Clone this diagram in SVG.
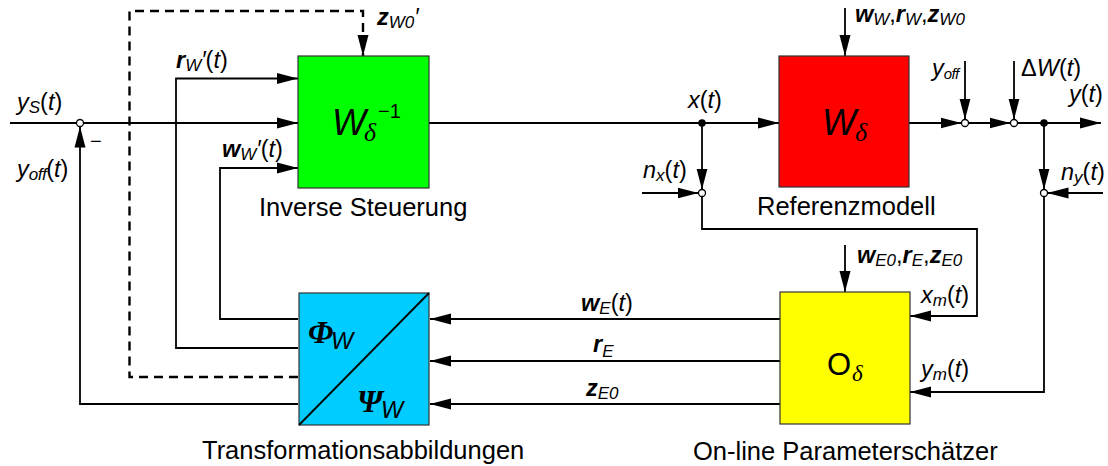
<svg xmlns="http://www.w3.org/2000/svg" width="1108" height="466" viewBox="0 0 1108 466">
<style>
.ln{fill:none;stroke:#000;stroke-width:1.8}
.dash{fill:none;stroke:#000;stroke-width:2.4;stroke-dasharray:9 6}
.box{stroke:#333;stroke-width:1.2}
.m{font-family:"Liberation Sans",Arial,sans-serif;font-style:italic;font-size:23.5px;fill:#000}
.b{font-weight:bold}
.s{font-size:17px}
.u{font-style:normal}
.g{font-family:"Liberation Serif","Times New Roman",serif;font-style:italic}
.lbl{font-family:"Liberation Sans",Arial,sans-serif;font-size:25.5px;fill:#000}
.big{font-family:"Liberation Sans",Arial,sans-serif;font-style:italic;font-size:36px}
.oc{fill:#fff;stroke:#000;stroke-width:1.3}
.dot{fill:#000}
</style>
<defs>
<marker id="ar" markerUnits="userSpaceOnUse" markerWidth="21" markerHeight="12" refX="21" refY="6" orient="auto" viewBox="0 0 21 12">
<path d="M0,0.5 L21,6 L0,11.5 z" fill="#000"/>
</marker>
</defs>

<g id="connectors">
<path class="ln" d="M10,123 H76.5"/>
<path class="ln" d="M83.5,123 H298" marker-end="url(#ar)"/>
<path class="ln" d="M298,404 H80 V126.5" marker-end="url(#ar)"/>
<path class="dash" d="M298,377 H129.5 V11 H363 V56" marker-end="url(#ar)"/>
<path class="ln" d="M298,348 H176 V78.5 H298" marker-end="url(#ar)"/>
<path class="ln" d="M298,319 H220 V168 H298" marker-end="url(#ar)"/>
<path class="ln" d="M429,123 H779" marker-end="url(#ar)"/>
<path class="ln" d="M702,123 V189.5" marker-end="url(#ar)"/>
<path class="ln" d="M642,193 H698.5" marker-end="url(#ar)"/>
<path class="ln" d="M702,196.5 V229 H977 V316 H910" marker-end="url(#ar)"/>
<path class="ln" d="M909,123 H961.5" marker-end="url(#ar)"/>
<path class="ln" d="M968.5,123 H1010.5" marker-end="url(#ar)"/>
<path class="ln" d="M1017.5,123 H1101" marker-end="url(#ar)"/>
<path class="ln" d="M965,61 V119.5" marker-end="url(#ar)"/>
<path class="ln" d="M1014,61 V119.5" marker-end="url(#ar)"/>
<path class="ln" d="M845,8 V56" marker-end="url(#ar)"/>
<path class="ln" d="M1044,123 V189.5" marker-end="url(#ar)"/>
<path class="ln" d="M1103,193 H1047.5" marker-end="url(#ar)"/>
<path class="ln" d="M1044,196.5 V392 H910" marker-end="url(#ar)"/>
<path class="ln" d="M845,245 V292" marker-end="url(#ar)"/>
<path class="ln" d="M780,319 H430" marker-end="url(#ar)"/>
<path class="ln" d="M780,361 H430" marker-end="url(#ar)"/>
<path class="ln" d="M780,404 H430" marker-end="url(#ar)"/>
<circle class="oc" cx="80" cy="123" r="3.5"/>
<circle class="dot" cx="702" cy="123" r="3.8"/>
<circle class="oc" cx="702" cy="193" r="3.5"/>
<circle class="oc" cx="965" cy="123" r="3.5"/>
<circle class="oc" cx="1014" cy="123" r="3.5"/>
<circle class="dot" cx="1044" cy="123" r="3.8"/>
<circle class="oc" cx="1044" cy="193" r="3.5"/>
</g>

<g id="inverse">
<rect class="box" x="298" y="56" width="131" height="132" fill="#00ff00"/>
<text class="big" x="332" y="135">W</text>
<text class="g" x="364" y="141" font-size="26">δ</text>
<text x="378" y="118" font-family="Liberation Sans, Arial, sans-serif" font-size="20">−1</text>
<text class="lbl" x="259" y="216">Inverse Steuerung</text>
</g>

<g id="referenz">
<rect class="box" x="779" y="56" width="130" height="131" fill="#ff0000"/>
<text class="big" x="822" y="135">W</text>
<text class="g" x="855" y="141" font-size="26">δ</text>
<text class="lbl" x="757" y="215">Referenzmodell</text>
</g>

<g id="transformation">
<rect class="box" x="299" y="293" width="130" height="132" fill="#00ccff"/>
<path d="M299,425 L429,293" stroke="#000" stroke-width="1.8"/>
<text x="308" y="343" font-family="Liberation Serif, Times New Roman, serif" font-style="italic" font-weight="bold" font-size="32">Φ</text>
<text class="m" x="331" y="349" font-size="30">W</text>
<text x="357" y="412" font-family="Liberation Serif, Times New Roman, serif" font-style="italic" font-weight="bold" font-size="32">Ψ</text>
<text class="m" x="381" y="418" font-size="30">W</text>
<text class="lbl" x="202" y="459">Transformationsabbildungen</text>
</g>

<g id="schaetzer">
<rect class="box" x="780" y="292" width="130" height="132" fill="#ffff00"/>
<text x="827" y="375" font-family="Liberation Sans, Arial, sans-serif" font-size="31">O</text>
<text class="g" x="852" y="381" font-size="23">δ</text>
<text class="lbl" x="693" y="460">On-line Parameterschätzer</text>
</g>

<g id="labels">
<text class="m" x="17" y="110">y<tspan class="s" dy="3">S</tspan><tspan class="u" dy="-3">(</tspan>t<tspan class="u">)</tspan></text>
<text class="m" x="17" y="177">y<tspan class="s" dy="3" letter-spacing="-0.5">off</tspan><tspan class="u" dy="-3">(</tspan>t<tspan class="u">)</tspan></text>
<text x="90" y="148" font-family="Liberation Sans, Arial, sans-serif" font-size="20">−</text>
<text class="m" x="176" y="68"><tspan class="b">r</tspan><tspan class="s" dy="3">W</tspan><tspan dy="-3">′</tspan><tspan class="u">(</tspan>t<tspan class="u">)</tspan></text>
<text class="m" x="222" y="157"><tspan class="b">w</tspan><tspan class="s" dy="3">W</tspan><tspan dy="-3">′</tspan><tspan class="u">(</tspan>t<tspan class="u">)</tspan></text>
<text class="m" x="377" y="25"><tspan class="b">z</tspan><tspan class="s" dy="3">W0</tspan><tspan dy="-3">′</tspan></text>
<text class="m" x="688" y="108">x<tspan class="u">(</tspan>t<tspan class="u">)</tspan></text>
<text class="m" x="855" y="22"><tspan class="b">w</tspan><tspan class="s" dy="3">W</tspan><tspan class="u" dy="-3">,</tspan><tspan class="b">r</tspan><tspan class="s" dy="3">W</tspan><tspan class="u" dy="-3">,</tspan><tspan class="b">z</tspan><tspan class="s" dy="3">W0</tspan></text>
<text class="m" x="932" y="76">y<tspan dy="3" font-size="15" letter-spacing="-0.6">off</tspan></text>
<text class="m" x="1021" y="76"><tspan class="u">Δ</tspan>W<tspan class="u">(</tspan>t<tspan class="u">)</tspan></text>
<text class="m" x="1069" y="102">y<tspan class="u">(</tspan>t<tspan class="u">)</tspan></text>
<text class="m" x="643" y="178">n<tspan class="s" dy="3">x</tspan><tspan class="u" dy="-3">(</tspan>t<tspan class="u">)</tspan></text>
<text class="m" x="1061" y="180">n<tspan class="s" dy="3">y</tspan><tspan class="u" dy="-3">(</tspan>t<tspan class="u">)</tspan></text>
<text class="m" x="857" y="263"><tspan class="b">w</tspan><tspan class="s" dy="3">E0</tspan><tspan class="u" dy="-3">,</tspan><tspan class="b">r</tspan><tspan class="s" dy="3">E</tspan><tspan class="u" dy="-3">,</tspan><tspan class="b">z</tspan><tspan class="s" dy="3">E0</tspan></text>
<text class="m" x="921" y="303">x<tspan class="s" dy="3">m</tspan><tspan class="u" dy="-3">(</tspan>t<tspan class="u">)</tspan></text>
<text class="m" x="921" y="377">y<tspan class="s" dy="3">m</tspan><tspan class="u" dy="-3">(</tspan>t<tspan class="u">)</tspan></text>
<text class="m" x="581" y="311"><tspan class="b">w</tspan><tspan class="s" dy="3">E</tspan><tspan class="u" dy="-3">(</tspan>t<tspan class="u">)</tspan></text>
<text class="m" x="593" y="352"><tspan class="b">r</tspan><tspan class="s" dy="5">E</tspan></text>
<text class="m" x="586" y="396"><tspan class="b">z</tspan><tspan class="s" dy="3">E0</tspan></text>
</g>
</svg>
